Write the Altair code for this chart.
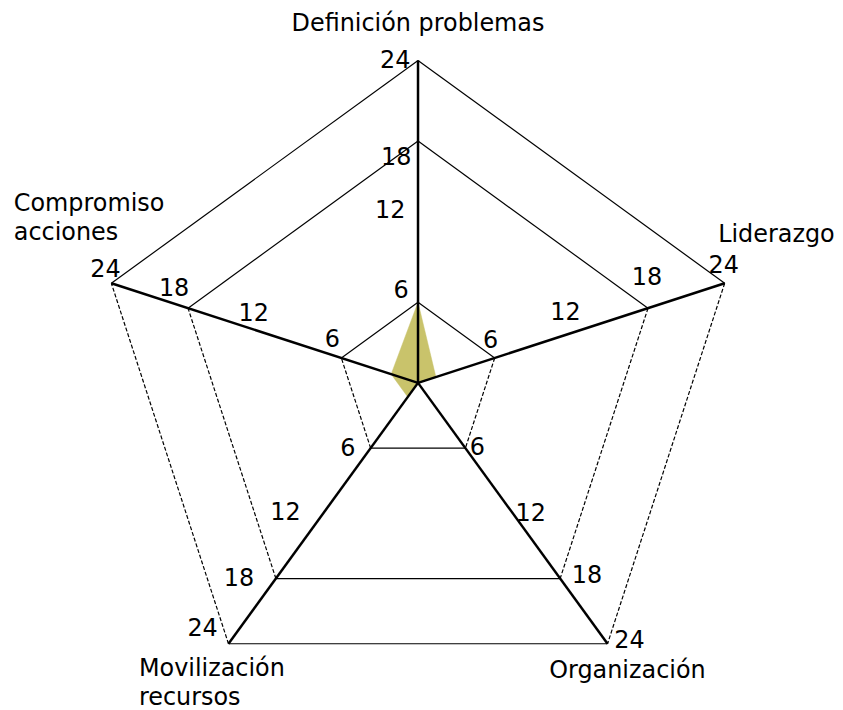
import altair as alt
import pandas as pd
import numpy as np

# ---- data ----
axis_names = ["Definición problemas", "Liderazgo", "Organización",
              "Movilización\nrecursos", "Compromiso\nacciones"]
scores = [6, 1.4, 0, 1.3, 2.1]
ring_levels = [6, 18, 24]
tick_values = [6, 12, 18, 24]
tick_labels = ["6", "12", "18", "24"]
max_value = 24

# ---- layout (pixels, styles) ----
W, H = 820, 690
CX, CY = 412, 375          # centre inside plot area (px)
R_PX = 324                 # radius of max_value (px)
k = R_PX / max_value       # px per unit
angles_deg = [90, 18, -54, -126, 162]
dashed_sides = {(1, 2), (3, 4)}
# pixel offsets of each tick label (per axis, for ticks 6, 12, 18, 24)
tick_offsets = [
    [(-17, -11), (-28, -11), (-22, 17), (-23, 1)],
    [(-4, -17), (-6, -20), (-1, -30), (-1, -17)],
    [(12, 0), (18, 1), (27, -3), (22, -3)],
    [(-23, 1), (-38, 0), (-37, 0), (-26, -15)],
    [(-9, -18), (-11, -19), (-14, -19), (-6, -13)],
]
name_offsets = [(0, -37, "center"), (52, -48, "center"), (20, 27, "center"),
                (-90, 25, "left"), (-98, -80, "left")]
FILL = "#c9c36b"
FONT = "DejaVu Sans"
FS = 24

ang = np.radians(angles_deg)
ux, uy = np.cos(ang), np.sin(ang)

def pt(i, v):
    return v * ux[i], v * uy[i]

# polygon
poly = []
for j, i in enumerate(list(range(5)) + [0]):
    x, y = pt(i, scores[i])
    poly.append({"x": x, "y": y, "o": j})
poly_df = pd.DataFrame(poly)

# spokes
spokes_df = pd.DataFrame([{"x": 0, "y": 0, "x2": pt(i, max_value)[0], "y2": pt(i, max_value)[1]}
                          for i in range(5)])

# ring sides
sides = []
for lv in ring_levels:
    for i in range(5):
        j = (i + 1) % 5
        a, b = pt(i, lv), pt(j, lv)
        sides.append({"x": a[0], "y": a[1], "x2": b[0], "y2": b[1],
                      "dashed": (i, j) in dashed_sides})
sides_df = pd.DataFrame(sides)

# tick labels
ticks = []
for i in range(5):
    for n, (v, t) in enumerate(zip(tick_values, tick_labels)):
        x, y = pt(i, v)
        dx, dy = tick_offsets[i][n]
        ticks.append({"x": x + dx / k, "y": y - dy / k, "t": t})
ticks_df = pd.DataFrame(ticks)

# axis names
names = []
for i in range(5):
    x, y = pt(i, max_value)
    dx, dy, al = name_offsets[i]
    names.append({"x": x + dx / k, "y": y - dy / k, "t": axis_names[i], "al": al})
names_df = pd.DataFrame(names)

xs = alt.Scale(domain=[-CX / k, (W - CX) / k], nice=False, zero=False)
ys = alt.Scale(domain=[-(H - CY) / k, CY / k], nice=False, zero=False)
X = lambda f: alt.X(f, type="quantitative", scale=xs, axis=None)
Y = lambda f: alt.Y(f, type="quantitative", scale=ys, axis=None)

poly_layer = alt.Chart(poly_df).mark_line(fill=FILL, stroke=FILL, strokeWidth=0.5).encode(
    x=X("x"), y=Y("y"), order="o:Q")

solid = alt.Chart(sides_df[~sides_df.dashed]).mark_rule(color="black", strokeWidth=1.2).encode(
    x=X("x"), y=Y("y"), x2="x2", y2="y2")
dashed = alt.Chart(sides_df[sides_df.dashed]).mark_rule(
    color="black", strokeWidth=1.2, strokeDash=[4, 2]).encode(
    x=X("x"), y=Y("y"), x2="x2", y2="y2")
spokes = alt.Chart(spokes_df).mark_rule(color="black", strokeWidth=2.5).encode(
    x=X("x"), y=Y("y"), x2="x2", y2="y2")

tick_layer = alt.Chart(ticks_df).mark_text(font=FONT, fontSize=FS, color="black",
                                           baseline="middle", align="center").encode(
    x=X("x"), y=Y("y"), text="t:N")

name_layers = []
for al in ["center", "left"]:
    sub = names_df[names_df.al == al]
    name_layers.append(alt.Chart(sub).mark_text(font=FONT, fontSize=FS, color="black",
                                                baseline="middle", align=al,
                                                lineBreak="\n", lineHeight=30).encode(
        x=X("x"), y=Y("y"), text="t:N"))

chart = alt.layer(poly_layer, solid, dashed, spokes, tick_layer, *name_layers).properties(
    width=W, height=H, padding=0, background="white"
).configure_view(stroke=None)

chart.save("out.html", embed_options={"renderer": "svg", "actions": False})
